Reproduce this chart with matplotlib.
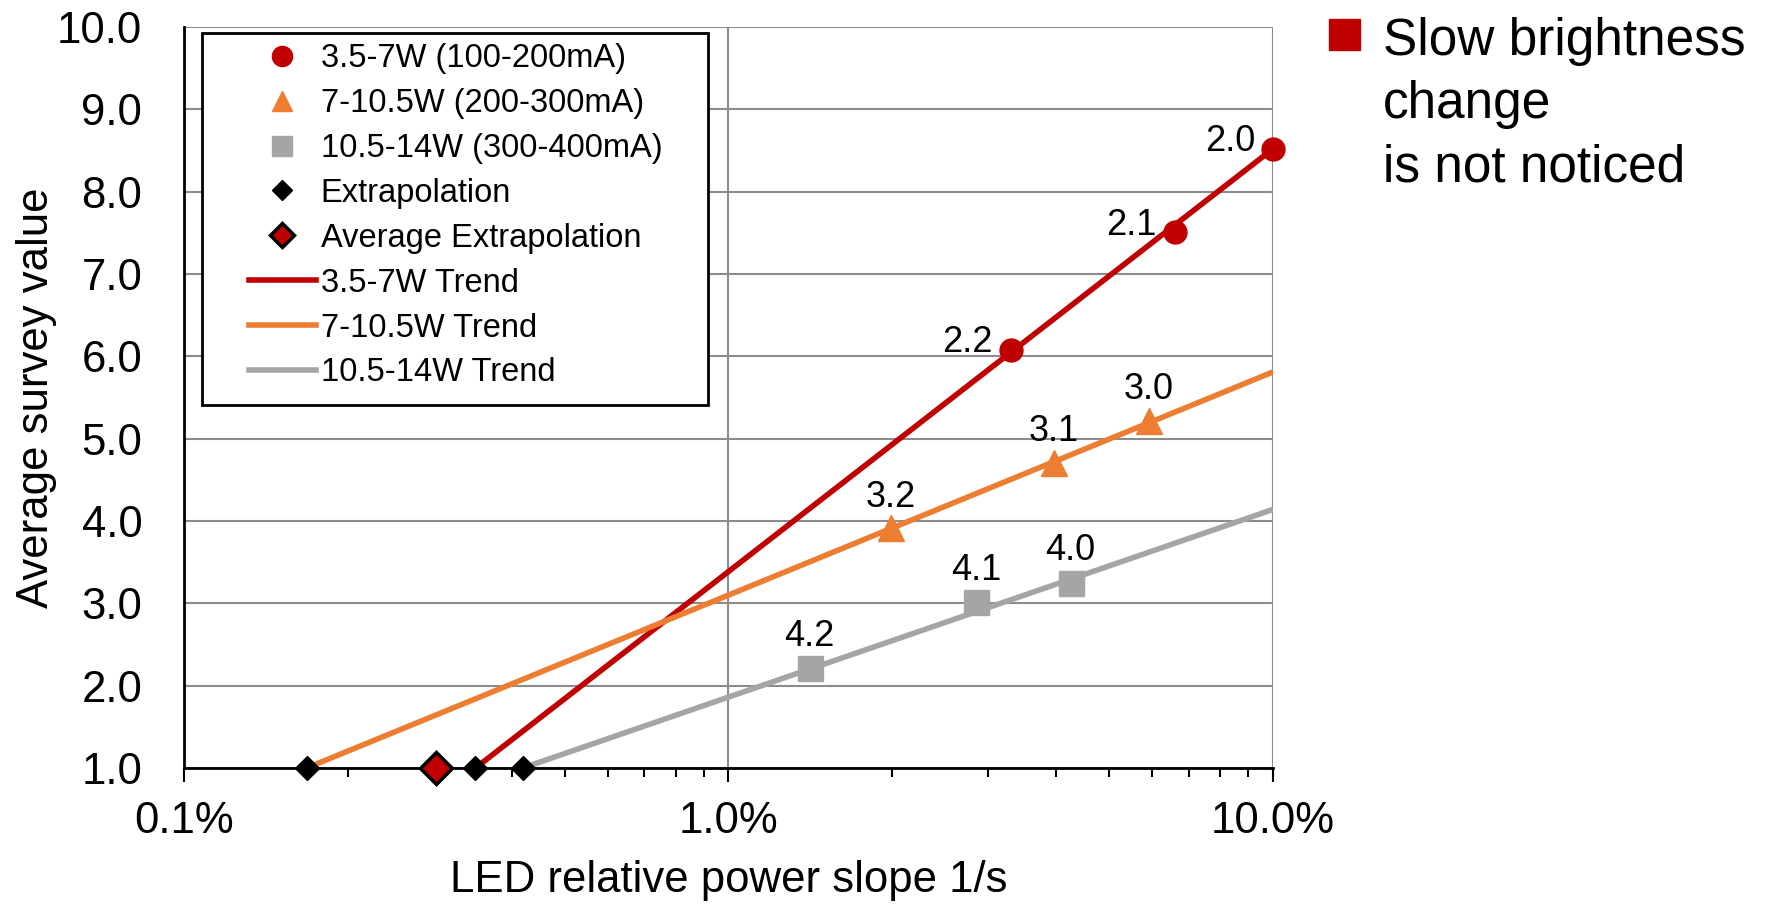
import matplotlib.pyplot as plt
from matplotlib.patches import Rectangle
from matplotlib.lines import Line2D
from matplotlib.ticker import FixedLocator, FuncFormatter, LogLocator, NullFormatter

plt.rcParams['font.family'] = ['Liberation Sans', 'DejaVu Sans']

# survey points: x = LED relative power slope in %/s, y = average survey value
red_x = [3.30, 6.60, 10.0]
red_y = [6.08, 7.51, 8.52]
red_lbl = ['2.2', '2.1', '2.0']

orange_x = [1.99, 3.96, 5.91]
orange_y = [3.92, 4.71, 5.22]
orange_lbl = ['3.2', '3.1', '3.0']

gray_x = [1.41, 2.85, 4.25]
gray_y = [2.21, 3.01, 3.25]
gray_lbl = ['4.2', '4.1', '4.0']

# extrapolated points where the trends reach 1.0
extra_x = [0.168, 0.343, 0.419]
extra_y = [1.0, 1.0, 1.0]
avg_x = [0.29]
avg_y = [1.0]

# trend lines (straight on the log x axis): start / end
red_trend_x = [0.343, 10.0]
red_trend_y = [1.0, 8.52]
orange_trend_x = [0.168, 10.0]
orange_trend_y = [1.0, 5.81]
gray_trend_x = [0.419, 10.0]
gray_trend_y = [1.0, 4.14]

RED = '#C00000'
ORANGE = '#ED7D31'
GRAY = '#A5A5A5'
GRID = '#8C8C8C'

fig = plt.figure(figsize=(17.69, 9.05), dpi=100)
ax = fig.add_axes([0.104, 0.1514, 0.6156, 0.8188])

ax.plot(red_trend_x, red_trend_y, color=RED, lw=4, zorder=3, solid_capstyle='butt')
ax.plot(orange_trend_x, orange_trend_y, color=ORANGE, lw=4, zorder=3, solid_capstyle='butt')
ax.plot(gray_trend_x, gray_trend_y, color=GRAY, lw=4, zorder=3, solid_capstyle='butt')

ax.plot(red_x, red_y, ls='none', marker='o', ms=16.5, color=RED, zorder=4, clip_on=False)
ax.plot(orange_x, orange_y, ls='none', marker='^', ms=19, color=ORANGE, zorder=4)
ax.plot(gray_x, gray_y, ls='none', marker='s', ms=18, color=GRAY, zorder=4)

ax.plot(extra_x, extra_y, ls='none', marker='D', ms=12, color='black', zorder=5, clip_on=False)
ax.plot(avg_x, avg_y, ls='none', marker='D', ms=16, mfc=RED, mec='black', mew=2.5,
        zorder=5, clip_on=False)

for x, y, t in zip(red_x, red_y, red_lbl):
    ax.annotate(t, (x, y), xytext=(-13, 5), textcoords='offset points',
                ha='right', va='center', fontsize=26, zorder=6)
for x, y, t in zip(orange_x, orange_y, orange_lbl):
    ax.annotate(t, (x, y), xytext=(0, 22), textcoords='offset points',
                ha='center', va='center', fontsize=26, zorder=6)
for x, y, t in zip(gray_x, gray_y, gray_lbl):
    ax.annotate(t, (x, y), xytext=(0, 23), textcoords='offset points',
                ha='center', va='center', fontsize=26, zorder=6)

ax.set_xscale('log')
ax.set_xlim(0.1, 10)
ax.set_ylim(1, 10)
ax.xaxis.set_major_locator(FixedLocator([0.1, 1, 10]))
ax.xaxis.set_major_formatter(FuncFormatter(lambda v, p: f'{v:.1f}%'))
ax.xaxis.set_minor_locator(LogLocator(base=10, subs=range(2, 10)))
ax.xaxis.set_minor_formatter(NullFormatter())
ax.set_yticks(range(1, 11))
ax.yaxis.set_major_formatter(FuncFormatter(lambda v, p: f'{v:.1f}'))

ax.tick_params(axis='x', which='major', length=10, width=1.5, pad=14, labelsize=31.5)
ax.tick_params(axis='x', which='minor', length=6.5, width=1.5)
ax.tick_params(axis='y', length=0, pad=30, labelsize=31.5)

ax.grid(True, which='major', color=GRID, lw=1.5, zorder=0)
ax.set_axisbelow(True)
for s in ['top', 'right']:
    ax.spines[s].set_visible(False)
for s in ['left', 'bottom']:
    ax.spines[s].set_linewidth(2)
    ax.spines[s].set_zorder(3.5)

ax.set_xlabel('LED relative power slope 1/s', fontsize=31.5)
ax.xaxis.set_label_coords(0.5, -0.1525)
ax.xaxis.label.set_va('center')
ax.set_ylabel('Average survey value', fontsize=31.5)
ax.yaxis.set_label_coords(-0.135, 0.5)
ax.yaxis.label.set_va('center')

# legend frame drawn by hand so the padding matches
ax.add_patch(Rectangle((0.0165, 0.4899), 0.4647, 0.502, transform=ax.transAxes,
                       facecolor='white', edgecolor='black', lw=2, zorder=6))

handles = [
    Line2D([], [], ls='none', marker='o', ms=14.5, color=RED),
    Line2D([], [], ls='none', marker='^', ms=15, color=ORANGE),
    Line2D([], [], ls='none', marker='s', ms=14, color=GRAY),
    Line2D([], [], ls='none', marker='D', ms=10.5, color='black'),
    Line2D([], [], ls='none', marker='D', ms=12, mfc=RED, mec='black', mew=2.5),
    Line2D([], [], color=RED, lw=4),
    Line2D([], [], color=ORANGE, lw=4),
    Line2D([], [], color=GRAY, lw=4),
]
labels = ['3.5-7W (100-200mA)', '7-10.5W (200-300mA)', '10.5-14W (300-400mA)',
          'Extrapolation', 'Average Extrapolation',
          '3.5-7W Trend', '7-10.5W Trend', '10.5-14W Trend']
leg = ax.legend(handles, labels, loc='upper left', bbox_to_anchor=(0.0597, 0.978),
                frameon=False, fontsize=23.5, borderpad=0, borderaxespad=0,
                handlelength=2.05, handletextpad=0.15, labelspacing=0.425)
leg.set_zorder(7)

# note on the right
fig.add_artist(Rectangle((1329 / 1769, 1 - 50 / 905), 31 / 1769, 31 / 905,
                         transform=fig.transFigure, color=RED))
fig.text(1383 / 1769, 1 - 17 / 905, 'Slow brightness\nchange\nis not noticed',
         fontsize=37, va='top', ha='left', linespacing=1.38)

fig.savefig('out.png', dpi=100)
